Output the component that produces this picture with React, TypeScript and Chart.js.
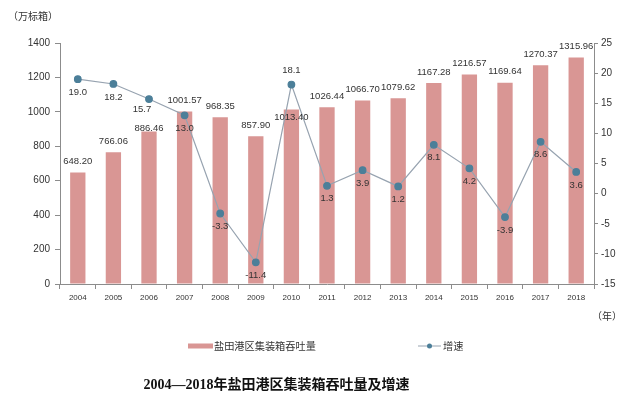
import React, { useEffect, useRef } from "react";
import { Chart, registerables } from "chart.js";

Chart.register(...registerables);

const years = ["2004", "2005", "2006", "2007", "2008", "2009", "2010", "2011", "2012", "2013", "2014", "2015", "2016", "2017", "2018"];
const throughput = [648.2, 766.06, 886.46, 1001.57, 968.35, 857.9, 1013.4, 1026.44, 1066.7, 1079.62, 1167.28, 1216.57, 1169.64, 1270.37, 1315.96];
const growth = [19.0, 18.2, 15.7, 13.0, -3.3, -11.4, 18.1, 1.3, 3.9, 1.2, 8.1, 4.2, -3.9, 8.6, 3.6];
const barLabel = "盐田港区集装箱吞吐量";
const lineLabel = "增速";
const titleText = "2004—2018年盐田港区集装箱吞吐量及增速";
const leftUnit = "（万标箱）";
const xUnit = "（年）";

const BAR_COLOR = "#D99694";
const LINE_COLOR = "#97A3B0";
const POINT_COLOR = "#4C7F99";
const AXIS_COLOR = "#8C8C8C";
const TEXT_COLOR = "#333333";
const NUM_FONT = "'Liberation Sans', Arial, sans-serif";
const CJK_FONT = "'Noto Sans CJK SC', sans-serif";

// label placement tweaks (style, not data): vertical offsets from the mark
const barLabelDy: Record<number, number> = { 2: -3, 6: 8 };
const lineLabelDy: Record<number, number> = { 2: 10, 6: -14 };
const lineLabelDx: Record<number, number> = { 2: -7 };

const overlayPlugin = {
  id: "overlay",
  afterDatasetsDraw(chart: any) {
    const ctx = chart.ctx;
    ctx.save();
    ctx.fillStyle = TEXT_COLOR;
    ctx.textAlign = "center";
    ctx.textBaseline = "middle";
    ctx.font = `9.5px ${NUM_FONT}`;
    const barMeta = chart.getDatasetMeta(0);
    barMeta.data.forEach((el: any, i: number) => {
      const v = chart.data.datasets[0].data[i] as number;
      const dy = barLabelDy[i] ?? -11;
      ctx.fillText(v.toFixed(2), el.x, el.y + dy);
    });
    const lineMeta = chart.getDatasetMeta(1);
    lineMeta.data.forEach((el: any, i: number) => {
      const v = chart.data.datasets[1].data[i] as number;
      const dy = lineLabelDy[i] ?? 13;
      const dx = lineLabelDx[i] ?? 0;
      ctx.fillText(v.toFixed(1), el.x + dx, el.y + dy);
    });
    ctx.restore();
  },
  afterDraw(chart: any) {
    const ctx = chart.ctx;
    ctx.save();
    ctx.fillStyle = TEXT_COLOR;
    ctx.textBaseline = "middle";
    // unit labels
    ctx.textAlign = "left";
    ctx.font = `10px ${CJK_FONT}`;
    ctx.fillText(leftUnit, 8, 16);
    ctx.fillText(xUnit, 592, 316);
    // legend
    const ly = 346;
    const ds0 = chart.data.datasets[0];
    const ds1 = chart.data.datasets[1];
    ctx.fillStyle = ds0.backgroundColor;
    ctx.fillRect(188, ly - 2.5, 25, 5);
    ctx.fillStyle = TEXT_COLOR;
    ctx.font = `10.2px ${CJK_FONT}`;
    ctx.fillText(ds0.label, 214, ly);
    ctx.strokeStyle = ds1.borderColor;
    ctx.lineWidth = 1;
    ctx.beginPath();
    ctx.moveTo(418, ly);
    ctx.lineTo(441, ly);
    ctx.stroke();
    ctx.fillStyle = ds1.pointBackgroundColor;
    ctx.beginPath();
    ctx.arc(429.5, ly, 2.5, 0, Math.PI * 2);
    ctx.fill();
    ctx.fillStyle = TEXT_COLOR;
    ctx.fillText(ds1.label, 443, ly);
    // title
    ctx.fillStyle = "#111111";
    ctx.textAlign = "center";
    ctx.font = `bold 14px 'Liberation Serif', 'Noto Sans CJK SC', serif`;
    ctx.fillText(titleText, 276.5, 385);
    ctx.restore();
  },
};

export default function App() {
  const ref = useRef<HTMLCanvasElement>(null);
  useEffect(() => {
    document.body.style.margin = "0";
    const canvas = ref.current!;
    const chart = new Chart(canvas, {
      type: "bar",
      data: {
        labels: years,
        datasets: [
          {
            type: "bar",
            label: barLabel,
            data: throughput,
            backgroundColor: BAR_COLOR,
            borderWidth: 0,
            barPercentage: 0.43,
            categoryPercentage: 1,
            yAxisID: "y",
            order: 1,
          } as any,
          {
            type: "line",
            label: lineLabel,
            data: growth,
            borderColor: LINE_COLOR,
            borderWidth: 1.2,
            pointBackgroundColor: POINT_COLOR,
            pointBorderColor: POINT_COLOR,
            pointRadius: 3.3,
            tension: 0,
            yAxisID: "y1",
            order: 0,
          } as any,
        ],
      },
      options: {
        responsive: false,
        animation: false,
        layout: { padding: { top: 43, left: 0, right: 0, bottom: 0 } },
        plugins: {
          legend: { display: false },
          title: { display: false },
          tooltip: { enabled: false },
        },
        scales: {
          x: {
            grid: { display: true, drawOnChartArea: false, drawTicks: true, tickLength: 5, color: AXIS_COLOR, offset: true },
            border: { color: AXIS_COLOR, width: 1 },
            ticks: { color: TEXT_COLOR, font: { size: 8, family: NUM_FONT }, padding: 4, maxRotation: 0, autoSkip: false },
            afterFit: (s: any) => { s.height = 123; },
          },
          y: {
            position: "left",
            min: 0,
            max: 1400,
            grid: { display: true, drawOnChartArea: false, drawTicks: true, tickLength: 5, color: AXIS_COLOR },
            border: { color: AXIS_COLOR, width: 1 },
            ticks: { stepSize: 200, color: TEXT_COLOR, font: { size: 10, family: NUM_FONT }, padding: 5, callback: (v: any) => String(v) },
            afterFit: (s: any) => { s.width = 60; },
          },
          y1: {
            position: "right",
            min: -15,
            max: 25,
            grid: { display: true, drawOnChartArea: false, drawTicks: true, tickLength: 4, color: AXIS_COLOR },
            border: { color: AXIS_COLOR, width: 1 },
            ticks: { stepSize: 5, color: TEXT_COLOR, font: { size: 10, family: NUM_FONT }, padding: 3, callback: (v: any) => String(v) },
            afterFit: (s: any) => { s.width = 46; },
          },
        },
      } as any,
      plugins: [overlayPlugin],
    });
    return () => chart.destroy();
  }, []);
  return <canvas ref={ref} width={640} height={407} style={{ display: "block" }} />;
}
